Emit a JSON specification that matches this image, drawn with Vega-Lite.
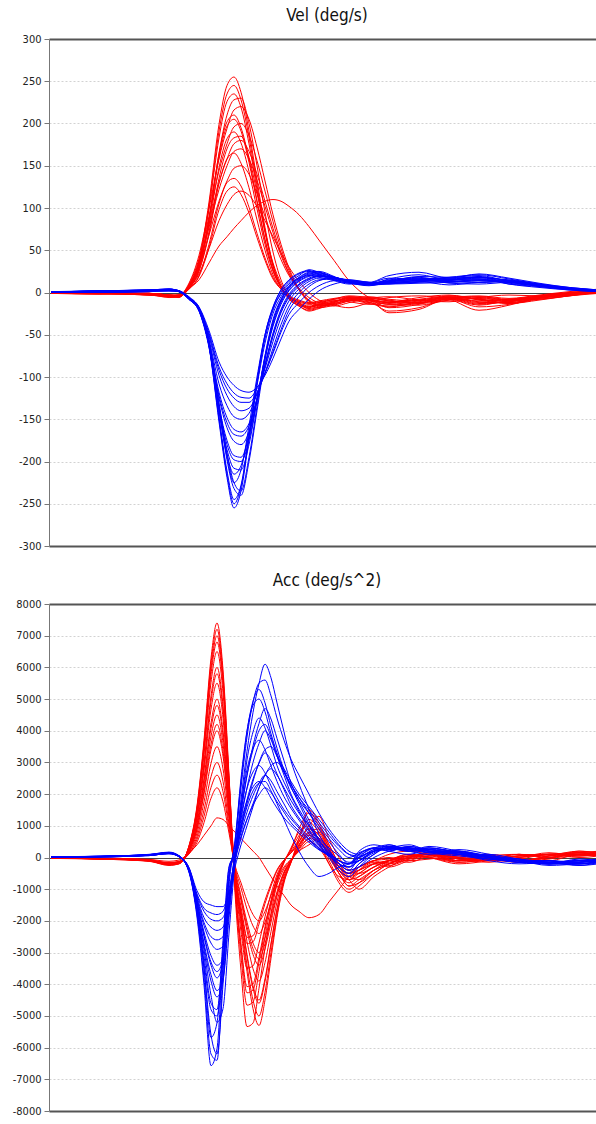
{
"$schema": "https://vega.github.io/schema/vega-lite/v6.json",
"padding": {"left": 12, "top": 7, "right": 0, "bottom": 0},
"spacing": 58,
"bounds": "flush",
"config": {
  "view": {"stroke": null},
  "title": {"font": "Liberation Sans Narrow, DejaVu Sans Condensed, sans-serif", "fontSize": 17, "fontWeight": "normal", "color": "#111111", "offset": 8},
  "axisY": {
    "labelFont": "Liberation Sans Narrow, DejaVu Sans Condensed, sans-serif", "labelFontSize": 11, "labelColor": "#222222", "labelPadding": 3,
    "tickColor": "#777777", "tickSize": 5, "domainColor": "#777777", "domainWidth": 1, "title": null,
    "grid": true,
    "gridColor": {"condition": [{"test": "datum.value == 0", "value": "#000000"}, {"test": "abs(datum.value) == 300 || abs(datum.value) == 8000", "value": "#555555"}], "value": "#d2d2d2"},
    "gridDash": {"condition": {"test": "datum.value == 0 || abs(datum.value) == 300 || abs(datum.value) == 8000", "value": [1, 0]}, "value": [2, 2]},
    "gridWidth": {"condition": {"test": "abs(datum.value) == 300 || abs(datum.value) == 8000", "value": 2}, "value": 1}
  }
},
"datasets": {
"vel": [
{"t":52,"r1":0,"r2":1,"r3":0,"r4":-1,"r5":0,"r6":0,"r7":1,"r8":0,"r9":-1,"r10":0,"r11":0,"r12":1,"b1":0,"b2":1,"b3":0,"b4":0,"b5":1,"b6":0,"b7":0,"b8":1,"b9":0,"b10":0,"b11":1,"b12":0,"r13":0,"r14":0,"r15":1,"r16":0,"r17":-1,"r18":0,"b13":0,"b14":1,"b15":0,"b16":0,"b17":1,"b18":0},
{"t":100,"r1":-1,"r2":0,"r3":-1,"r4":0,"r5":-2,"r6":-1,"r7":0,"r8":-1,"r9":-2,"r10":0,"r11":-1,"r12":-1,"b1":1,"b2":2,"b3":1,"b4":0,"b5":1,"b6":2,"b7":1,"b8":1,"b9":2,"b10":1,"b11":0,"b12":1,"r13":-1,"r14":0,"r15":-1,"r16":-1,"r17":0,"r18":-1,"b13":1,"b14":1,"b15":2,"b16":1,"b17":1,"b18":2},
{"t":150,"r1":-2,"r2":-1,"r3":-3,"r4":-2,"r5":-1,"r6":-2,"r7":-3,"r8":-1,"r9":-2,"r10":-2,"r11":-3,"r12":-1,"b1":2,"b2":3,"b3":2,"b4":1,"b5":2,"b6":3,"b7":2,"b8":2,"b9":3,"b10":2,"b11":1,"b12":2,"r13":-2,"r14":-2,"r15":-1,"r16":-2,"r17":-3,"r18":-1,"b13":2,"b14":3,"b15":2,"b16":3,"b17":2,"b18":2},
{"t":170,"r1":-4,"r2":-3,"r3":-5,"r4":-4,"r5":-3,"r6":-4,"r7":-5,"r8":-3,"r9":-4,"r10":-6,"r11":-4,"r12":-3,"b1":3,"b2":4,"b3":3,"b4":2,"b5":3,"b6":4,"b7":3,"b8":2,"b9":4,"b10":3,"b11":2,"b12":3,"r13":-4,"r14":-3,"r15":-5,"r16":-4,"r17":-3,"r18":-4,"b13":3,"b14":4,"b15":3,"b16":3,"b17":2,"b18":4},
{"t":180,"r1":-3,"r2":-4,"r3":-5,"r4":-3,"r5":-4,"r6":-5,"r7":-6,"r8":-4,"r9":-5,"r10":-5,"r11":-4,"r12":-3,"b1":1,"b2":2,"b3":2,"b4":1,"b5":1,"b6":2,"b7":1,"b8":1,"b9":2,"b10":1,"b11":1,"b12":2,"r13":-4,"r14":-3,"r15":-4,"r16":-5,"r17":-4,"r18":-3,"b13":1,"b14":2,"b15":1,"b16":2,"b17":1,"b18":2},
{"t":190,"r1":8,"r2":7,"r3":5,"r4":6,"r5":10,"r6":6,"r7":9,"r8":5,"r9":8,"r10":4,"r11":5,"r12":5,"b1":-8,"b2":-7,"b3":-6,"b4":-7,"b5":-7,"b6":-8,"b7":-8,"b8":-7,"b9":-7,"b10":-6,"b11":-6,"b12":-5,"r13":7,"r14":11,"r15":6,"r16":5,"r17":8,"r18":4,"b13":-8,"b14":-7,"b15":-7,"b16":-8,"b17":-7,"b18":-6},
{"t":200,"r1":38,"r2":35,"r3":28,"r4":32,"r5":40,"r6":29,"r7":36,"r8":25,"r9":30,"r10":20,"r11":22,"r12":15,"b1":-20,"b2":-19,"b3":-18,"b4":-19,"b5":-20,"b6":-22,"b7":-22,"b8":-21,"b9":-20,"b10":-19,"b11":-18,"b12":-17,"r13":37,"r14":44,"r15":31,"r16":26,"r17":34,"r18":19,"b13":-20,"b14":-19,"b15":-20,"b16":-21,"b17":-21,"b18":-18},
{"t":210,"r1":107,"r2":99,"r3":85,"r4":88,"r5":90,"r6":80,"r7":81,"r8":69,"r9":68,"r10":57,"r11":52,"r12":35,"b1":-64,"b2":-62,"b3":-56,"b4":-60,"b5":-62,"b6":-65,"b7":-62,"b8":-60,"b9":-56,"b10":-52,"b11":-48,"b12":-45,"r13":103,"r14":99,"r15":86,"r16":72,"r17":77,"r18":53,"b13":-63,"b14":-58,"b15":-61,"b16":-63,"b17":-61,"b18":-50},
{"t":220,"r1":199,"r2":183,"r3":165,"r4":164,"r5":144,"r6":148,"r7":130,"r8":129,"r9":108,"r10":105,"r11":85,"r12":55,"b1":-153,"b2":-147,"b3":-130,"b4":-140,"b5":-138,"b6":-135,"b7":-125,"b8":-118,"b9":-108,"b10":-98,"b11":-88,"b12":-82,"r13":191,"r14":158,"r15":160,"r16":135,"r17":122,"r18":98,"b13":-150,"b14":-135,"b15":-140,"b16":-136,"b17":-122,"b18":-92},
{"t":228,"r1":245,"r2":226,"r3":210,"r4":202,"r5":176,"r6":182,"r7":158,"r8":158,"r9":132,"r10":130,"r11":104,"r12":66,"b1":-219,"b2":-211,"b3":-190,"b4":-195,"b5":-186,"b6":-175,"b7":-160,"b8":-148,"b9":-134,"b10":-122,"b11":-108,"b12":-100,"r13":235,"r14":194,"r15":197,"r16":170,"r17":150,"r18":120,"b13":-215,"b14":-198,"b15":-192,"b16":-180,"b17":-154,"b18":-114},
{"t":235,"r1":255,"r2":235,"r3":228,"r4":210,"r5":196,"r6":190,"r7":176,"r8":165,"r9":147,"r10":135,"r11":116,"r12":76,"b1":-255,"b2":-245,"b3":-225,"b4":-225,"b5":-208,"b6":-193,"b7":-176,"b8":-162,"b9":-147,"b10":-135,"b11":-119,"b12":-110,"r13":245,"r14":216,"r15":205,"r16":183,"r17":167,"r18":125,"b13":-250,"b14":-232,"b15":-215,"b16":-198,"b17":-168,"b18":-125},
{"t":242,"r1":237,"r2":219,"r3":230,"r4":195,"r5":200,"r6":177,"r7":180,"r8":153,"r9":150,"r10":126,"r11":120,"r12":85,"b1":-235,"b2":-228,"b3":-235,"b4":-210,"b5":-210,"b6":-195,"b7":-180,"b8":-165,"b9":-150,"b10":-140,"b11":-124,"b12":-116,"r13":228,"r14":220,"r15":191,"r16":185,"r17":170,"r18":116,"b13":-230,"b14":-240,"b15":-205,"b16":-200,"b17":-170,"b18":-130},
{"t":250,"r1":191,"r2":176,"r3":200,"r4":158,"r5":186,"r6":143,"r7":167,"r8":124,"r9":140,"r10":101,"r11":115,"r12":95,"b1":-173,"b2":-170,"b3":-195,"b4":-158,"b5":-180,"b6":-170,"b7":-165,"b8":-155,"b9":-143,"b10":-137,"b11":-125,"b12":-118,"r13":184,"r14":205,"r15":154,"r16":160,"r17":158,"r18":94,"b13":-170,"b14":-200,"b15":-165,"b16":-175,"b17":-158,"b18":-130},
{"t":258,"r1":133,"r2":122,"r3":150,"r4":109,"r5":156,"r6":99,"r7":140,"r8":86,"r9":117,"r10":70,"r11":102,"r12":103,"b1":-107,"b2":-108,"b3":-135,"b4":-100,"b5":-128,"b6":-125,"b7":-128,"b8":-125,"b9":-120,"b10":-120,"b11":-114,"b12":-112,"r13":127,"r14":172,"r15":107,"r16":118,"r17":133,"r18":65,"b13":-105,"b14":-140,"b15":-110,"b16":-127,"b17":-126,"b18":-118},
{"t":266,"r1":77,"r2":71,"r3":95,"r4":63,"r5":120,"r6":57,"r7":108,"r8":50,"r9":90,"r10":41,"r11":85,"r12":108,"b1":-51,"b2":-55,"b3":-75,"b4":-50,"b5":-75,"b6":-78,"b7":-85,"b8":-88,"b9":-90,"b10":-95,"b11":-95,"b12":-98,"r13":74,"r14":132,"r15":62,"r16":72,"r17":102,"r18":38,"b13":-50,"b14":-80,"b15":-60,"b16":-77,"b17":-86,"b18":-96},
{"t":274,"r1":33,"r2":31,"r3":48,"r4":27,"r5":84,"r6":25,"r7":76,"r8":21,"r9":63,"r10":18,"r11":66,"r12":110,"b1":-18,"b2":-21,"b3":-32,"b4":-19,"b5":-35,"b6":-40,"b7":-48,"b8":-52,"b9":-58,"b10":-66,"b11":-72,"b12":-78,"r13":32,"r14":92,"r15":27,"r16":35,"r17":71,"r18":16,"b13":-17,"b14":-35,"b15":-25,"b16":-38,"b17":-50,"b18":-70},
{"t":282,"r1":8,"r2":7,"r3":15,"r4":6,"r5":52,"r6":6,"r7":47,"r8":4,"r9":39,"r10":4,"r11":47,"r12":108,"b1":3,"b2":0,"b3":-8,"b4":-2,"b5":-10,"b6":-14,"b7":-20,"b8":-24,"b9":-30,"b10":-38,"b11":-47,"b12":-55,"r13":7,"r14":57,"r15":6,"r16":11,"r17":44,"r18":4,"b13":3,"b14":-9,"b15":-5,"b16":-12,"b17":-22,"b18":-44},
{"t":290,"r1":-8,"r2":-6,"r3":-3,"r4":-7,"r5":26,"r6":-5,"r7":23,"r8":-6,"r9":20,"r10":-4,"r11":30,"r12":102,"b1":14,"b2":12,"b3":7,"b4":10,"b5":5,"b6":2,"b7":-2,"b8":-6,"b9":-10,"b10":-16,"b11":-26,"b12":-34,"r13":-7,"r14":29,"r15":-6,"r16":-4,"r17":22,"r18":-5,"b13":15,"b14":6,"b15":8,"b16":3,"b17":-4,"b18":-21},
{"t":300,"r1":-15,"r2":-12,"r3":-14,"r4":-16,"r5":4,"r6":-11,"r7":4,"r8":-13,"r9":5,"r10":-9,"r11":13,"r12":92,"b1":22,"b2":20,"b3":18,"b4":17,"b5":15,"b6":13,"b7":10,"b8":7,"b9":4,"b10":0,"b11":-12,"b12":-20,"r13":-16,"r14":4,"r15":-14,"r16":-12,"r17":3,"r18":-10,"b13":23,"b14":17,"b15":16,"b16":14,"b17":9,"b18":-5},
{"t":310,"r1":-18,"r2":-20,"r3":-17,"r4":-22,"r5":-10,"r6":-14,"r7":-9,"r8":-17,"r9":-6,"r10":-12,"r11":0,"r12":78,"b1":25,"b2":27,"b3":24,"b4":20,"b5":22,"b6":19,"b7":17,"b8":15,"b9":13,"b10":10,"b11":0,"b12":-8,"r13":-21,"r14":-12,"r15":-19,"r16":-16,"r17":-10,"r18":-13,"b13":26,"b14":23,"b15":21,"b16":20,"b17":16,"b18":7},
{"t":320,"r1":-14,"r2":-17,"r3":-13,"r4":-19,"r5":-16,"r6":-12,"r7":-14,"r8":-15,"r9":-12,"r10":-10,"r11":-9,"r12":62,"b1":21,"b2":24,"b3":25,"b4":18,"b5":23,"b6":21,"b7":20,"b8":19,"b9":17,"b10":15,"b11":8,"b12":2,"r13":-18,"r14":-18,"r15":-16,"r16":-14,"r17":-15,"r18":-11,"b13":22,"b14":24,"b15":20,"b16":22,"b17":19,"b18":14},
{"t":335,"r1":-10,"r2":-12,"r3":-8,"r4":-13,"r5":-14,"r6":-9,"r7":-16,"r8":-11,"r9":-14,"r10":-7,"r11":-15,"r12":38,"b1":15,"b2":18,"b3":19,"b4":14,"b5":18,"b6":17,"b7":18,"b8":18,"b9":17,"b10":16,"b11":14,"b12":10,"r13":-11,"r14":-15,"r15":-12,"r16":-10,"r17":-13,"r18":-8,"b13":16,"b14":18,"b15":15,"b16":18,"b17":18,"b18":17},
{"t":350,"r1":-7,"r2":-5,"r3":-4,"r4":-9,"r5":-8,"r6":-11,"r7":-12,"r8":-7,"r9":-10,"r10":-5,"r11":-18,"r12":14,"b1":11,"b2":14,"b3":12,"b4":10,"b5":13,"b6":12,"b7":14,"b8":13,"b9":14,"b10":13,"b11":15,"b12":13,"r13":-8,"r14":-10,"r15":-6,"r16":-9,"r17":-9,"r18":-6,"b13":12,"b14":13,"b15":11,"b16":13,"b17":14,"b18":15},
{"t":370,"r1":-10,"r2":-8,"r3":-6,"r4":-11,"r5":-5,"r6":-14,"r7":-7,"r8":-9,"r9":-6,"r10":-8,"r11":-12,"r12":-6,"b1":9,"b2":12,"b3":8,"b4":11,"b5":10,"b6":9,"b7":11,"b8":10,"b9":12,"b10":10,"b11":12,"b12":11,"r13":-12,"r14":-8,"r15":-9,"r16":-13,"r17":-7,"r18":-9,"b13":10,"b14":9,"b15":10,"b16":11,"b17":11,"b18":12},
{"t":390,"r1":-14,"r2":-18,"r3":-10,"r4":-22,"r5":-8,"r6":-12,"r7":-5,"r8":-24,"r9":-9,"r10":-11,"r11":-6,"r12":-14,"b1":14,"b2":20,"b3":12,"b4":17,"b5":13,"b6":10,"b7":11,"b8":15,"b9":12,"b10":13,"b11":10,"b12":14,"r13":-16,"r14":-13,"r15":-12,"r16":-17,"r17":-10,"r18":-12,"b13":16,"b14":11,"b15":13,"b16":12,"b17":13,"b18":11},
{"t":420,"r1":-12,"r2":-14,"r3":-12,"r4":-18,"r5":-10,"r6":-6,"r7":-9,"r8":-20,"r9":-13,"r10":-8,"r11":-4,"r12":-10,"b1":18,"b2":24,"b3":16,"b4":14,"b5":19,"b6":13,"b7":12,"b8":17,"b9":14,"b10":15,"b11":11,"b12":16,"r13":-13,"r14":-15,"r15":-9,"r16":-11,"r17":-12,"r18":-9,"b13":21,"b14":15,"b15":17,"b16":14,"b17":15,"b18":13},
{"t":450,"r1":-6,"r2":-4,"r3":-7,"r4":-8,"r5":-6,"r6":-3,"r7":-11,"r8":-7,"r9":-9,"r10":-4,"r11":-8,"r12":-6,"b1":13,"b2":17,"b3":16,"b4":9,"b5":18,"b6":14,"b7":13,"b8":11,"b9":15,"b10":12,"b11":12,"b12":16,"r13":-7,"r14":-9,"r15":-5,"r16":-6,"r17":-8,"r18":-5,"b13":15,"b14":18,"b15":14,"b16":17,"b17":13,"b18":15},
{"t":480,"r1":-13,"r2":-8,"r3":-5,"r4":-17,"r5":-4,"r6":-9,"r7":-6,"r8":-14,"r9":-5,"r10":-6,"r11":-21,"r12":-11,"b1":14,"b2":22,"b3":18,"b4":12,"b5":20,"b6":17,"b7":15,"b8":10,"b9":16,"b10":14,"b11":15,"b12":19,"r13":-10,"r14":-7,"r15":-12,"r16":-8,"r17":-15,"r18":-8,"b13":18,"b14":21,"b15":12,"b16":18,"b17":12,"b18":16},
{"t":510,"r1":-11,"r2":-12,"r3":-9,"r4":-14,"r5":-7,"r6":-13,"r7":-3,"r8":-10,"r9":-8,"r10":-9,"r11":-15,"r12":-12,"b1":12,"b2":17,"b3":10,"b4":13,"b5":13,"b6":15,"b7":12,"b8":12,"b9":10,"b10":13,"b11":14,"b12":11,"r13":-8,"r14":-10,"r15":-11,"r16":-13,"r17":-9,"r18":-10,"b13":14,"b14":16,"b15":14,"b16":14,"b17":13,"b18":12},
{"t":540,"r1":-5,"r2":-6,"r3":-5,"r4":-7,"r5":-3,"r6":-8,"r7":-4,"r8":-4,"r9":-6,"r10":-8,"r11":-6,"r12":-7,"b1":8,"b2":11,"b3":6,"b4":9,"b5":7,"b6":10,"b7":8,"b8":9,"b9":7,"b10":9,"b11":10,"b12":8,"r13":-4,"r14":-5,"r15":-6,"r16":-9,"r17":-4,"r18":-6,"b13":9,"b14":10,"b15":9,"b16":9,"b17":8,"b18":9},
{"t":570,"r1":-1,"r2":-2,"r3":-1,"r4":-3,"r5":1,"r6":-4,"r7":-1,"r8":0,"r9":-2,"r10":-4,"r11":-1,"r12":-3,"b1":4,"b2":6,"b3":3,"b4":5,"b5":4,"b6":5,"b7":4,"b8":5,"b9":3,"b10":5,"b11":6,"b12":4,"r13":-1,"r14":-1,"r15":-2,"r16":-4,"r17":0,"r18":-3,"b13":5,"b14":5,"b15":4,"b16":5,"b17":4,"b18":5},
{"t":600,"r1":2,"r2":1,"r3":3,"r4":0,"r5":4,"r6":1,"r7":2,"r8":3,"r9":0,"r10":-1,"r11":2,"r12":1,"b1":2,"b2":3,"b3":1,"b4":2,"b5":2,"b6":3,"b7":1,"b8":2,"b9":1,"b10":3,"b11":3,"b12":2,"r13":2,"r14":3,"r15":1,"r16":0,"r17":2,"r18":0,"b13":2,"b14":2,"b15":2,"b16":2,"b17":2,"b18":3}
],
"acc": [
{"t":52,"r1":-20,"r2":0,"r3":-30,"r4":-10,"r5":-20,"r6":0,"r7":-10,"r8":-30,"r9":-20,"r10":-10,"r11":-20,"r12":-10,"b1":20,"b2":10,"b3":30,"b4":0,"b5":20,"b6":10,"b7":30,"b8":0,"b9":20,"b10":10,"b11":30,"b12":0,"r13":-10,"r14":-20,"r15":0,"r16":-30,"r17":-10,"r18":-20,"b13":10,"b14":20,"b15":0,"b16":30,"b17":10,"b18":20},
{"t":100,"r1":-50,"r2":-30,"r3":-40,"r4":-40,"r5":-30,"r6":-50,"r7":-40,"r8":-30,"r9":-40,"r10":-30,"r11":-30,"r12":-20,"b1":30,"b2":40,"b3":20,"b4":30,"b5":40,"b6":20,"b7":30,"b8":20,"b9":30,"b10":40,"b11":20,"b12":30,"r13":-40,"r14":-30,"r15":-50,"r16":-40,"r17":-30,"r18":-20,"b13":30,"b14":20,"b15":40,"b16":30,"b17":20,"b18":30},
{"t":150,"r1":-120,"r2":-90,"r3":-110,"r4":-100,"r5":-90,"r6":-110,"r7":-100,"r8":-80,"r9":-90,"r10":-100,"r11":-80,"r12":-60,"b1":80,"b2":90,"b3":70,"b4":100,"b5":60,"b6":80,"b7":90,"b8":70,"b9":60,"b10":80,"b11":70,"b12":90,"r13":-100,"r14":-110,"r15":-90,"r16":-100,"r17":-80,"r18":-70,"b13":80,"b14":70,"b15":90,"b16":60,"b17":80,"b18":70},
{"t":170,"r1":-250,"r2":-220,"r3":-230,"r4":-200,"r5":-210,"r6":-240,"r7":-190,"r8":-210,"r9":-180,"r10":-200,"r11":-170,"r12":-120,"b1":150,"b2":170,"b3":140,"b4":160,"b5":130,"b6":150,"b7":140,"b8":120,"b9":130,"b10":140,"b11":120,"b12":130,"r13":-230,"r14":-220,"r15":-200,"r16":-210,"r17":-190,"r18":-160,"b13":160,"b14":140,"b15":150,"b16":130,"b17":140,"b18":120},
{"t":180,"r1":-200,"r2":-180,"r3":-190,"r4":-170,"r5":-160,"r6":-200,"r7":-150,"r8":-170,"r9":-140,"r10":-160,"r11":-130,"r12":-80,"b1":50,"b2":60,"b3":40,"b4":30,"b5":20,"b6":50,"b7":40,"b8":30,"b9":40,"b10":50,"b11":30,"b12":40,"r13":-190,"r14":-170,"r15":-160,"r16":-180,"r17":-150,"r18":-120,"b13":50,"b14":40,"b15":30,"b16":50,"b17":40,"b18":30},
{"t":190,"r1":370,"r2":350,"r3":330,"r4":300,"r5":280,"r6":250,"r7":230,"r8":200,"r9":175,"r10":150,"r11":110,"r12":150,"b1":-470,"b2":-430,"b3":-410,"b4":-424,"b5":-420,"b6":-400,"b7":-390,"b8":-380,"b9":-370,"b10":-350,"b11":-330,"b12":-320,"r13":360,"r14":340,"r15":290,"r16":240,"r17":210,"r18":130,"b13":-450,"b14":-440,"b15":-410,"b16":-390,"b17":-360,"b18":-340},
{"t":198,"r1":1630,"r2":1540,"r3":1430,"r4":1320,"r5":1210,"r6":1100,"r7":990,"r8":880,"r9":770,"r10":660,"r11":480,"r12":400,"b1":-1880,"b2":-1650,"b3":-1620,"b4":-1700,"b5":-1600,"b6":-1500,"b7":-1450,"b8":-1400,"b9":-1350,"b10":-1250,"b11":-1150,"b12":-1050,"r13":1580,"r14":1500,"r15":1280,"r16":1060,"r17":920,"r18":570,"b13":-1800,"b14":-1700,"b15":-1550,"b16":-1450,"b17":-1300,"b18":-1200},
{"t":205,"r1":3700,"r2":3500,"r3":3250,"r4":3000,"r5":2750,"r6":2500,"r7":2250,"r8":2000,"r9":1750,"r10":1500,"r11":1100,"r12":700,"b1":-4020,"b2":-3500,"b3":-3480,"b4":-2915,"b5":-3100,"b6":-2700,"b7":-2500,"b8":-2350,"b9":-2150,"b10":-1900,"b11":-1600,"b12":-1400,"r13":3600,"r14":3400,"r15":2900,"r16":2400,"r17":2100,"r18":1300,"b13":-3800,"b14":-3300,"b15":-2800,"b16":-2450,"b17":-2050,"b18":-1700},
{"t":212,"r1":6290,"r2":5950,"r3":5525,"r4":5100,"r5":4675,"r6":4250,"r7":3825,"r8":3400,"r9":2975,"r10":2550,"r11":1870,"r12":1000,"b1":-6570,"b2":-5600,"b3":-5680,"b4":-4350,"b5":-4600,"b6":-3700,"b7":-3400,"b8":-3100,"b9":-2700,"b10":-2200,"b11":-1750,"b12":-1500,"r13":6120,"r14":5780,"r15":4930,"r16":4080,"r17":3570,"r18":2210,"b13":-6200,"b14":-4800,"b15":-3900,"b16":-3300,"b17":-2500,"b18":-1950},
{"t":218,"r1":7400,"r2":7000,"r3":6500,"r4":6000,"r5":5500,"r6":5000,"r7":4500,"r8":4000,"r9":3500,"r10":3000,"r11":2200,"r12":1250,"b1":-6030,"b2":-6200,"b3":-5220,"b4":-5200,"b5":-4800,"b6":-4200,"b7":-3800,"b8":-3400,"b9":-2900,"b10":-2300,"b11":-1800,"b12":-1550,"r13":7200,"r14":6800,"r15":5800,"r16":4800,"r17":4200,"r18":2600,"b13":-6400,"b14":-5000,"b15":-4400,"b16":-3600,"b17":-2600,"b18":-2000},
{"t":224,"r1":5920,"r2":5600,"r3":5200,"r4":4800,"r5":4400,"r6":4000,"r7":3600,"r8":3200,"r9":2800,"r10":2400,"r11":1760,"r12":1200,"b1":-3015,"b2":-4000,"b3":-2610,"b4":-4770,"b5":-2900,"b6":-3800,"b7":-3300,"b8":-3200,"b9":-2800,"b10":-2200,"b11":-1700,"b12":-1550,"r13":5760,"r14":5440,"r15":4640,"r16":3840,"r17":3360,"r18":2080,"b13":-3600,"b14":-3400,"b15":-3900,"b16":-3200,"b17":-2500,"b18":-1900},
{"t":230,"r1":2590,"r2":2450,"r3":2275,"r4":2100,"r5":1925,"r6":1750,"r7":1575,"r8":1400,"r9":1225,"r10":1050,"r11":770,"r12":1000,"b1":-335,"b2":-900,"b3":-290,"b4":-2385,"b5":-500,"b6":-1700,"b7":-1300,"b8":-1600,"b9":-1500,"b10":-1300,"b11":-1000,"b12":-1100,"r13":2520,"r14":2380,"r15":2030,"r16":1680,"r17":1470,"r18":910,"b13":-600,"b14":-700,"b15":-1900,"b16":-1400,"b17":-1400,"b18":-1200},
{"t":236,"r1":-1100,"r2":-640,"r3":-960,"r4":-540,"r5":-840,"r6":-470,"r7":-720,"r8":-380,"r9":-560,"r10":-290,"r11":-240,"r12":800,"b1":180,"b2":530,"b3":140,"b4":-160,"b5":120,"b6":100,"b7":50,"b8":0,"b9":0,"b10":-100,"b11":-50,"b12":-300,"r13":-600,"r14":-880,"r15":-410,"r16":-550,"r17":-520,"r18":-360,"b13":400,"b14":500,"b15":-100,"b16":200,"b17":-150,"b18":-100},
{"t":242,"r1":-3575,"r2":-2120,"r3":-3120,"r4":-1800,"r5":-2730,"r6":-1560,"r7":-2340,"r8":-1280,"r9":-1820,"r10":-960,"r11":-800,"r12":600,"b1":1830,"b2":2385,"b3":1410,"b4":1540,"b5":1200,"b6":1660,"b7":990,"b8":1300,"b9":780,"b10":1080,"b11":660,"b12":400,"r13":-2000,"r14":-2860,"r15":-1360,"r16":-1840,"r17":-1690,"r18":-1200,"b13":2200,"b14":2500,"b15":900,"b16":1500,"b17":600,"b18":900},
{"t":248,"r1":-5335,"r2":-3600,"r3":-4660,"r4":-3060,"r5":-4075,"r6":-2650,"r7":-3490,"r8":-2180,"r9":-2715,"r10":-1630,"r11":-1360,"r12":400,"b1":3355,"b2":3975,"b3":2585,"b4":3080,"b5":2200,"b6":2780,"b7":1815,"b8":2175,"b9":1430,"b10":1800,"b11":1210,"b12":1000,"r13":-3400,"r14":-4270,"r15":-2310,"r16":-3130,"r17":-2520,"r18":-2040,"b13":3800,"b14":4000,"b15":1700,"b16":2600,"b17":1200,"b18":1600},
{"t":254,"r1":-5225,"r2":-4770,"r3":-4560,"r4":-4050,"r5":-3990,"r6":-3510,"r7":-3420,"r8":-2880,"r9":-2660,"r10":-2160,"r11":-1800,"r12":200,"b1":4575,"b2":4930,"b3":3525,"b4":3960,"b5":3000,"b6":3440,"b7":2475,"b8":2700,"b9":1950,"b10":2230,"b11":1650,"b12":1600,"r13":-4500,"r14":-4180,"r15":-3060,"r16":-4140,"r17":-2470,"r18":-2700,"b13":4900,"b14":4800,"b15":2400,"b16":3400,"b17":1700,"b18":2100},
{"t":260,"r1":-4125,"r2":-5300,"r3":-3600,"r4":-4500,"r5":-3150,"r6":-3900,"r7":-2700,"r8":-3200,"r9":-2100,"r10":-2400,"r11":-2000,"r12":0,"b1":5490,"b2":5300,"b3":4230,"b4":4400,"b5":3600,"b6":3700,"b7":2970,"b8":2900,"b9":2340,"b10":2400,"b11":1980,"b12":2200,"r13":-5000,"r14":-3300,"r15":-3400,"r16":-4600,"r17":-1950,"r18":-3000,"b13":5500,"b14":5000,"b15":3000,"b16":4000,"b17":2200,"b18":2350},
{"t":266,"r1":-2860,"r2":-4500,"r3":-2500,"r4":-3825,"r5":-2185,"r6":-3315,"r7":-1870,"r8":-2720,"r9":-1455,"r10":-2040,"r11":-1700,"r12":-300,"b1":6100,"b2":4880,"b3":4700,"b4":4090,"b5":4000,"b6":3400,"b7":3300,"b8":2670,"b9":2600,"b10":2210,"b11":2200,"b12":2600,"r13":-4250,"r14":-2290,"r15":-2890,"r16":-3910,"r17":-1350,"r18":-2550,"b13":5600,"b14":4600,"b15":3400,"b16":4200,"b17":2600,"b18":2400},
{"t":272,"r1":-1760,"r2":-3180,"r3":-1540,"r4":-2700,"r5":-1345,"r6":-2340,"r7":-1150,"r8":-1920,"r9":-900,"r10":-1440,"r11":-1200,"r12":-600,"b1":5670,"b2":4130,"b3":4370,"b4":3520,"b5":3720,"b6":2890,"b7":3070,"b8":2260,"b9":2420,"b10":1870,"b11":2050,"b12":2800,"r13":-3000,"r14":-1410,"r15":-2040,"r16":-2760,"r17":-830,"r18":-1800,"b13":5100,"b14":3900,"b15":3500,"b16":3800,"b17":2900,"b18":2100},
{"t":278,"r1":-825,"r2":-1900,"r3":-720,"r4":-1620,"r5":-630,"r6":-1400,"r7":-540,"r8":-1150,"r9":-420,"r10":-860,"r11":-720,"r12":-900,"b1":4880,"b2":3450,"b3":3760,"b4":2900,"b5":3200,"b6":2400,"b7":2640,"b8":1885,"b9":2080,"b10":1560,"b11":1760,"b12":2600,"r13":-1800,"r14":-660,"r15":-1220,"r16":-1660,"r17":-390,"r18":-1080,"b13":4400,"b14":3300,"b15":3200,"b16":3200,"b17":3000,"b18":1700},
{"t":285,"r1":-165,"r2":-800,"r3":-140,"r4":-675,"r5":-125,"r6":-585,"r7":-110,"r8":-480,"r9":-85,"r10":-360,"r11":-300,"r12":-1200,"b1":3965,"b2":2760,"b3":3055,"b4":2380,"b5":2600,"b6":1920,"b7":2145,"b8":1510,"b9":1690,"b10":1250,"b11":1430,"b12":2200,"r13":-750,"r14":-130,"r15":-510,"r16":-690,"r17":-80,"r18":-450,"b13":3700,"b14":2700,"b15":2800,"b16":2700,"b17":2700,"b18":1200},
{"t":292,"r1":300,"r2":-160,"r3":250,"r4":-135,"r5":200,"r6":-120,"r7":150,"r8":-100,"r9":150,"r10":-70,"r11":-60,"r12":-1500,"b1":3050,"b2":2230,"b3":2350,"b4":1940,"b5":2000,"b6":1550,"b7":1650,"b8":1220,"b9":1300,"b10":1010,"b11":1100,"b12":1800,"r13":-150,"r14":250,"r15":-100,"r16":-140,"r17":150,"r18":-90,"b13":3100,"b14":2200,"b15":2400,"b16":2300,"b17":2300,"b18":700},
{"t":300,"r1":800,"r2":500,"r3":700,"r4":400,"r5":600,"r6":300,"r7":500,"r8":300,"r9":400,"r10":200,"r11":200,"r12":-1700,"b1":2320,"b2":1700,"b3":1790,"b4":1450,"b5":1520,"b6":1180,"b7":1250,"b8":930,"b9":990,"b10":770,"b11":840,"b12":1400,"r13":600,"r14":900,"r15":400,"r16":350,"r17":500,"r18":250,"b13":2600,"b14":1800,"b15":2000,"b16":1900,"b17":1900,"b18":200},
{"t":310,"r1":1000,"r2":900,"r3":1200,"r4":800,"r5":1500,"r6":700,"r7":1000,"r8":600,"r9":700,"r10":500,"r11":400,"r12":-1900,"b1":1525,"b2":1060,"b3":1180,"b4":880,"b5":1000,"b6":740,"b7":825,"b8":580,"b9":650,"b10":480,"b11":550,"b12":1000,"r13":1100,"r14":1400,"r15":800,"r16":750,"r17":900,"r18":600,"b13":2000,"b14":1400,"b15":1600,"b16":1400,"b17":1500,"b18":-300},
{"t":320,"r1":500,"r2":700,"r3":900,"r4":600,"r5":1100,"r6":400,"r7":1300,"r8":800,"r9":500,"r10":300,"r11":600,"r12":-1800,"b1":730,"b2":530,"b3":560,"b4":440,"b5":480,"b6":370,"b7":400,"b8":290,"b9":310,"b10":240,"b11":260,"b12":600,"r13":800,"r14":1000,"r15":900,"r16":600,"r17":700,"r18":500,"b13":1400,"b14":1000,"b15":1200,"b16":900,"b17":1100,"b18":-600},
{"t":330,"r1":-200,"r2":100,"r3":200,"r4":0,"r5":400,"r6":-100,"r7":600,"r8":300,"r9":100,"r10":-200,"r11":200,"r12":-1400,"b1":240,"b2":100,"b3":190,"b4":0,"b5":160,"b6":70,"b7":130,"b8":60,"b9":100,"b10":50,"b11":80,"b12":300,"r13":200,"r14":300,"r15":400,"r16":100,"r17":200,"r18":100,"b13":900,"b14":600,"b15":800,"b16":500,"b17":700,"b18":-500},
{"t":340,"r1":-600,"r2":-500,"r3":-400,"r4":-500,"r5":-200,"r6":-700,"r7":0,"r8":-300,"r9":-300,"r10":-800,"r11":-200,"r12":-1000,"b1":-200,"b2":-300,"b3":-100,"b4":-400,"b5":-200,"b6":-300,"b7":-100,"b8":-200,"b9":-100,"b10":-200,"b11":-100,"b12":50,"r13":-400,"r14":-300,"r15":-200,"r16":-500,"r17":-300,"r18":-400,"b13":500,"b14":250,"b15":400,"b16":100,"b17":350,"b18":-300},
{"t":350,"r1":-700,"r2":-800,"r3":-600,"r4":-900,"r5":-500,"r6":-1000,"r7":-400,"r8":-700,"r9":-500,"r10":-1100,"r11":-400,"r12":-600,"b1":-300,"b2":-500,"b3":-200,"b4":-600,"b5":-400,"b6":-500,"b7":-300,"b8":-400,"b9":-200,"b10":-300,"b11":-200,"b12":-150,"r13":-700,"r14":-600,"r15":-600,"r16":-900,"r17":-500,"r18":-700,"b13":200,"b14":0,"b15":100,"b16":-200,"b17":100,"b18":-200},
{"t":360,"r1":-400,"r2":-600,"r3":-500,"r4":-700,"r5":-400,"r6":-800,"r7":-500,"r8":-1000,"r9":-300,"r10":-900,"r11":-300,"r12":-300,"b1":100,"b2":-200,"b3":200,"b4":-300,"b5":0,"b6":-200,"b7":-100,"b8":-300,"b9":100,"b10":-100,"b11":0,"b12":-100,"r13":-500,"r14":-400,"r15":-700,"r16":-800,"r17":-400,"r18":-600,"b13":100,"b14":150,"b15":0,"b16":-100,"b17":50,"b18":0},
{"t":375,"r1":-100,"r2":-300,"r3":-200,"r4":-400,"r5":-200,"r6":-400,"r7":-300,"r8":-600,"r9":-100,"r10":-500,"r11":-100,"r12":-100,"b1":300,"b2":200,"b3":400,"b4":100,"b5":300,"b6":100,"b7":200,"b8":0,"b9":300,"b10":200,"b11":200,"b12":150,"r13":-200,"r14":-150,"r15":-400,"r16":-500,"r17":-200,"r18":-300,"b13":300,"b14":300,"b15":250,"b16":200,"b17":250,"b18":200},
{"t":390,"r1":-250,"r2":-100,"r3":-150,"r4":-200,"r5":-300,"r6":-100,"r7":-100,"r8":-300,"r9":0,"r10":-200,"r11":-50,"r12":100,"b1":400,"b2":300,"b3":300,"b4":300,"b5":200,"b6":400,"b7":300,"b8":200,"b9":200,"b10":300,"b11":300,"b12":300,"r13":-100,"r14":-200,"r15":-200,"r16":-200,"r17":-100,"r18":-100,"b13":350,"b14":250,"b15":300,"b16":300,"b17":350,"b18":250},
{"t":410,"r1":-50,"r2":100,"r3":0,"r4":50,"r5":-100,"r6":100,"r7":-150,"r8":0,"r9":-100,"r10":0,"r11":50,"r12":200,"b1":250,"b2":400,"b3":200,"b4":300,"b5":350,"b6":200,"b7":200,"b8":300,"b9":100,"b10":300,"b11":200,"b12":250,"r13":50,"r14":-50,"r15":0,"r16":0,"r17":0,"r18":50,"b13":300,"b14":350,"b15":250,"b16":300,"b17":200,"b18":300},
{"t":430,"r1":100,"r2":0,"r3":150,"r4":100,"r5":50,"r6":0,"r7":50,"r8":100,"r9":-50,"r10":100,"r11":0,"r12":100,"b1":300,"b2":200,"b3":350,"b4":150,"b5":250,"b6":100,"b7":300,"b8":200,"b9":250,"b10":150,"b11":200,"b12":150,"r13":100,"r14":50,"r15":150,"r16":50,"r17":100,"r18":0,"b13":250,"b14":200,"b15":300,"b16":200,"b17":250,"b18":200},
{"t":460,"r1":-100,"r2":-150,"r3":0,"r4":-100,"r5":100,"r6":-200,"r7":150,"r8":0,"r9":50,"r10":-50,"r11":-100,"r12":-100,"b1":150,"b2":100,"b3":200,"b4":250,"b5":100,"b6":200,"b7":150,"b8":100,"b9":200,"b10":50,"b11":100,"b12":150,"r13":-50,"r14":0,"r15":-50,"r16":-150,"r17":50,"r18":-100,"b13":150,"b14":150,"b15":150,"b16":200,"b17":100,"b18":100},
{"t":490,"r1":50,"r2":-50,"r3":-100,"r4":0,"r5":-50,"r6":-100,"r7":0,"r8":-100,"r9":100,"r10":-150,"r11":50,"r12":-50,"b1":0,"b2":-50,"b3":50,"b4":100,"b5":-100,"b6":0,"b7":50,"b8":100,"b9":0,"b10":-50,"b11":0,"b12":50,"r13":-100,"r14":50,"r15":-100,"r16":-50,"r17":-50,"r18":0,"b13":50,"b14":0,"b15":50,"b16":50,"b17":0,"b18":-50},
{"t":520,"r1":-150,"r2":100,"r3":-50,"r4":-100,"r5":-150,"r6":50,"r7":-100,"r8":0,"r9":-50,"r10":0,"r11":100,"r12":50,"b1":-100,"b2":-150,"b3":-50,"b4":-100,"b5":-200,"b6":-150,"b7":-100,"b8":-50,"b9":-100,"b10":-100,"b11":-150,"b12":-100,"r13":0,"r14":-100,"r15":50,"r16":100,"r17":-100,"r18":50,"b13":-100,"b14":-150,"b15":-100,"b16":-50,"b17":-100,"b18":-100},
{"t":550,"r1":50,"r2":0,"r3":100,"r4":50,"r5":0,"r6":100,"r7":-50,"r8":150,"r9":-100,"r10":100,"r11":0,"r12":100,"b1":-250,"b2":-200,"b3":-150,"b4":-100,"b5":-150,"b6":-200,"b7":-200,"b8":-150,"b9":-100,"b10":-200,"b11":-100,"b12":-150,"r13":100,"r14":50,"r15":100,"r16":50,"r17":0,"r18":100,"b13":-200,"b14":-100,"b15":-150,"b16":-200,"b17":-200,"b18":-150},
{"t":580,"r1":150,"r2":200,"r3":100,"r4":200,"r5":100,"r6":100,"r7":150,"r8":50,"r9":100,"r10":150,"r11":50,"r12":0,"b1":-200,"b2":-100,"b3":-250,"b4":-150,"b5":-100,"b6":-50,"b7":-200,"b8":-100,"b9":-250,"b10":-150,"b11":-200,"b12":-100,"r13":150,"r14":100,"r15":100,"r16":150,"r17":100,"r18":50,"b13":-150,"b14":-200,"b15":-150,"b16":-200,"b17":-100,"b18":-150},
{"t":600,"r1":100,"r2":150,"r3":50,"r4":100,"r5":150,"r6":200,"r7":100,"r8":100,"r9":50,"r10":100,"r11":100,"r12":50,"b1":-150,"b2":-100,"b3":-200,"b4":-50,"b5":-200,"b6":-100,"b7":-150,"b8":-100,"b9":-150,"b10":-50,"b11":-100,"b12":-50,"r13":200,"r14":150,"r15":100,"r16":100,"r17":50,"r18":100,"b13":-100,"b14":-150,"b15":-100,"b16":-100,"b17":-100,"b18":-50}
]
},
"vconcat": [
  {
    "title": {"text": "Vel (deg/s)"},
    "width": 556, "height": 507,
    "data": {"name": "vel"},
    "encoding": {
      "x": {"field": "t", "type": "quantitative", "scale": {"domain": [50, 606]}, "axis": null},
      "y": {"field": "v", "type": "quantitative", "scale": {"domain": [-300, 300], "nice": false},
            "axis": {"values": [-300,-250,-200,-150,-100,-50,0,50,100,150,200,250,300], "labelExpr": "'' + datum.value"}}
    },
    "layer": [
      {"transform": [{"fold": ["r1","r2","r3","r4","r5","r6","r7","r8","r9","r10","r11","r12","r13","r14","r15","r16","r17","r18"], "as": ["k", "v"]}],
       "mark": {"type": "line", "color": "#ff0000", "strokeWidth": 1, "interpolate": "monotone", "clip": true},
       "encoding": {"detail": {"field": "k"}}},
      {"transform": [{"fold": ["b1","b2","b3","b4","b5","b6","b7","b8","b9","b10","b11","b12","b13","b14","b15","b16","b17","b18"], "as": ["k", "v"]}],
       "mark": {"type": "line", "color": "#0000ff", "strokeWidth": 1, "interpolate": "monotone", "clip": true},
       "encoding": {"detail": {"field": "k"}}}
    ]
  },
  {
    "title": {"text": "Acc (deg/s^2)"},
    "width": 556, "height": 507,
    "data": {"name": "acc"},
    "encoding": {
      "x": {"field": "t", "type": "quantitative", "scale": {"domain": [50, 606]}, "axis": null},
      "y": {"field": "v", "type": "quantitative", "scale": {"domain": [-8000, 8000], "nice": false},
            "axis": {"values": [-8000,-7000,-6000,-5000,-4000,-3000,-2000,-1000,0,1000,2000,3000,4000,5000,6000,7000,8000], "labelExpr": "'' + datum.value"}}
    },
    "layer": [
      {"transform": [{"fold": ["r1","r2","r3","r4","r5","r6","r7","r8","r9","r10","r11","r12","r13","r14","r15","r16","r17","r18"], "as": ["k", "v"]}],
       "mark": {"type": "line", "color": "#ff0000", "strokeWidth": 1, "interpolate": "monotone", "clip": true},
       "encoding": {"detail": {"field": "k"}}},
      {"transform": [{"fold": ["b1","b2","b3","b4","b5","b6","b7","b8","b9","b10","b11","b12","b13","b14","b15","b16","b17","b18"], "as": ["k", "v"]}],
       "mark": {"type": "line", "color": "#0000ff", "strokeWidth": 1, "interpolate": "monotone", "clip": true},
       "encoding": {"detail": {"field": "k"}}}
    ]
  }
]
}
